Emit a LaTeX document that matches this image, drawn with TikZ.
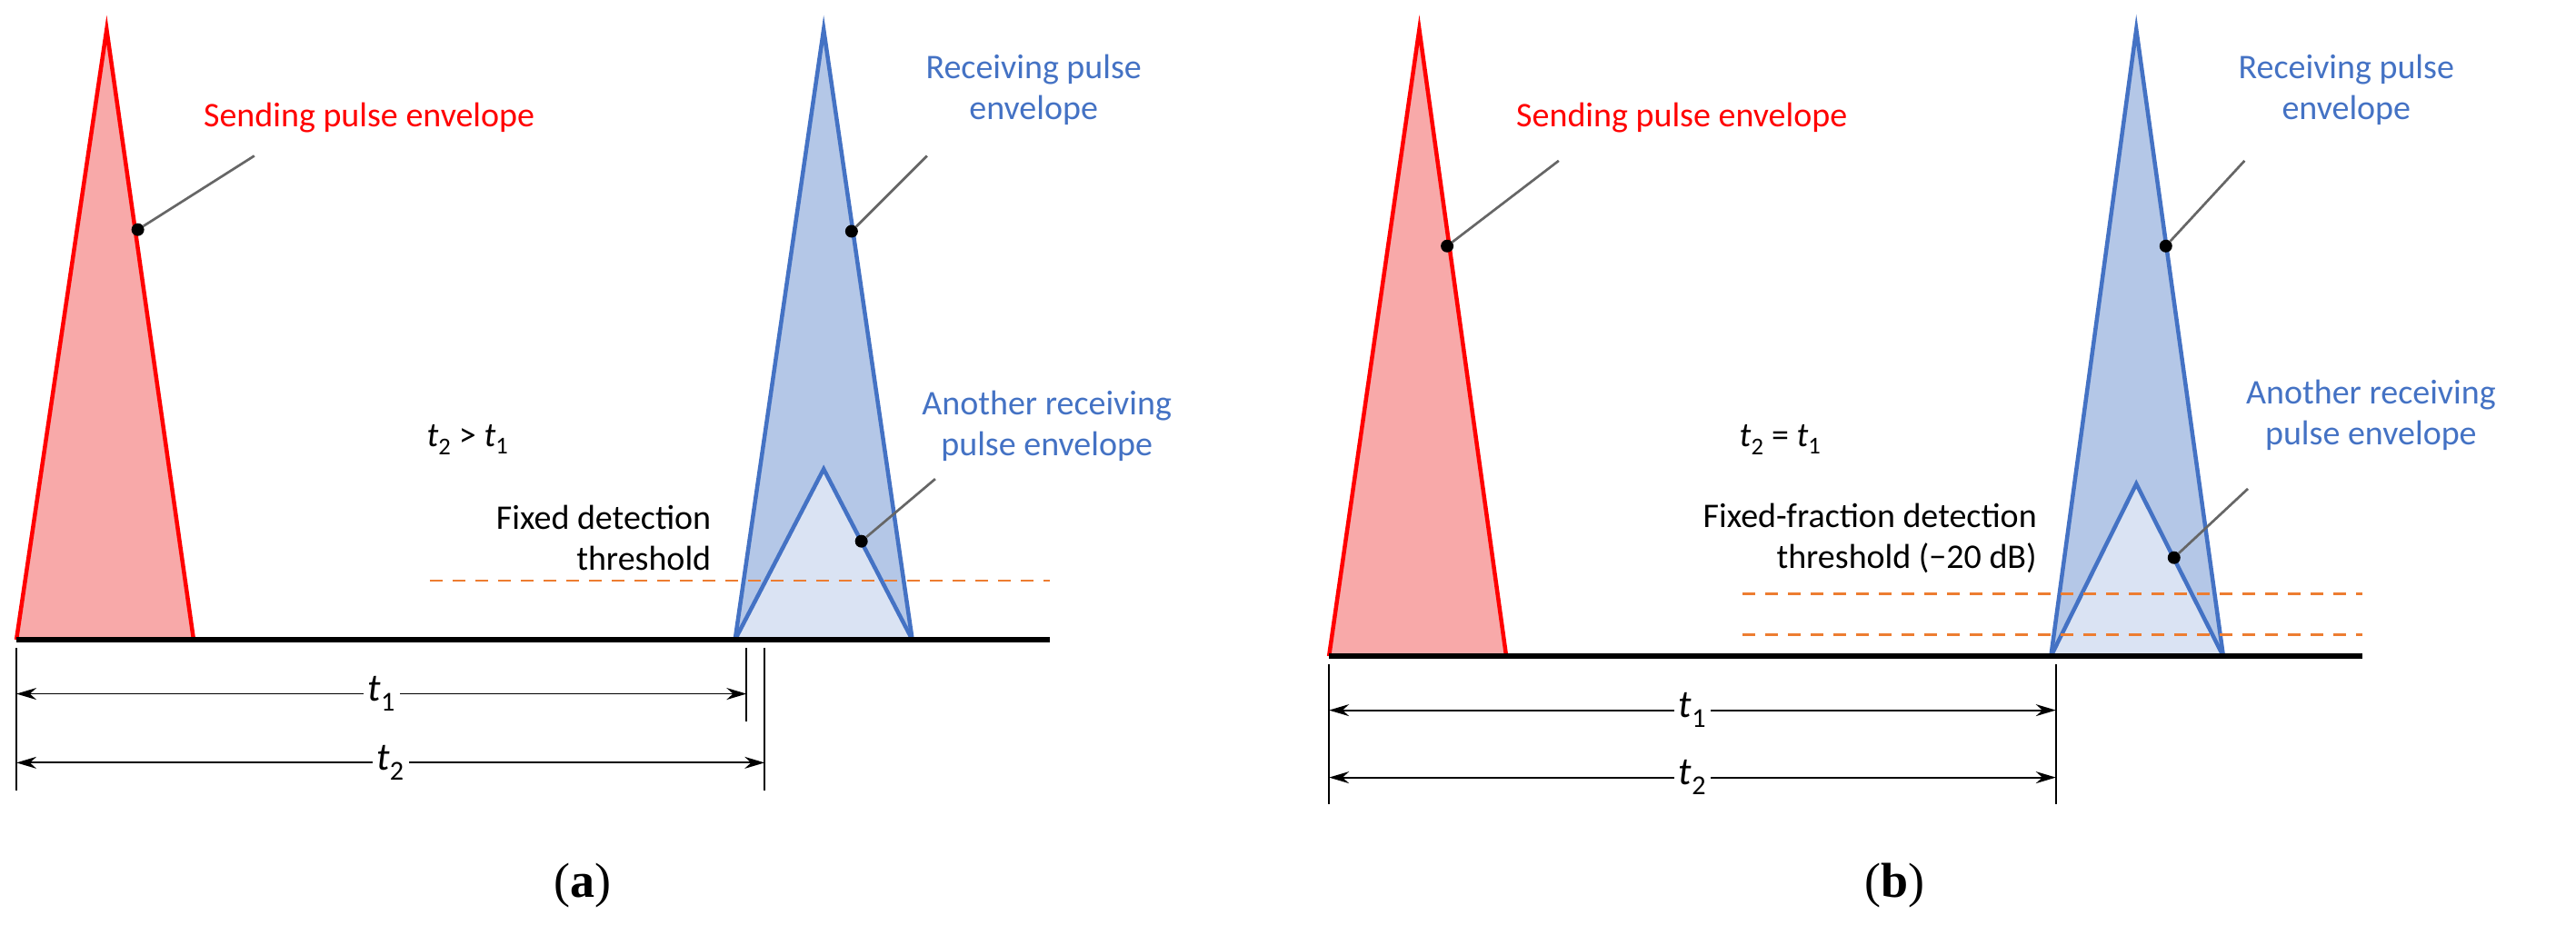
\documentclass[tikz,border=0pt]{standalone}
\usepackage{fontspec}
\setmainfont{Carlito}
\newfontfamily\capfont{Liberation Serif}
\usetikzlibrary{arrows.meta}
\definecolor{pred}{HTML}{FF0000}
\definecolor{pfill}{HTML}{F8A9A9}
\definecolor{bline}{HTML}{4472C4}
\definecolor{bfill}{HTML}{B4C7E7}
\definecolor{bfill2}{HTML}{DAE3F3}
\definecolor{dorange}{HTML}{ED7D31}
\tikzset{
 x=1.805pt,y=-1.805pt,
 lbl/.style={font=\fontsize{38}{45}\selectfont,align=center,inner sep=1pt},
 redlbl/.style={lbl,text=pred},
 bluelbl/.style={lbl,text=bline},
 blk/.style={lbl,text=black},
 leader/.style={draw=black!60,line width=2.7},
 dot/.style={circle,fill=black,inner sep=0,minimum size=14},
 base/.style={line width=5.4},
 tick/.style={line width=1.8},
 dim/.style={line width=1.8,{Stealth[length=22,width=13]}-{Stealth[length=22,width=13]}},
 dimlbl/.style={fill=white,font=\fontsize{43}{50}\selectfont,inner sep=5},
 thr/.style={dorange,line width=2.9,dash pattern=on 14 off 11},
 captxt/.style={font=\capfont\fontsize{54}{60}\selectfont}
}
\newcommand{\tsub}[1]{\textit{t}\textsubscript{#1}}
\begin{document}
\begin{tikzpicture}
\useasboundingbox (0,0) rectangle (1570,576);
% ---------- panel a
\fill[pfill,draw=pred,line width=4.5] (10,390) -- (65,18) -- (118,390);
\filldraw[fill=bfill,draw=bline,line width=4.5] (448,390) -- (502,18) -- (556,390) -- cycle;
\filldraw[fill=bfill2,draw=bline,line width=4.5] (448,390) -- (502,286) -- (556,390);
\draw[thr] (262,354) -- (640,354);
\draw[base] (10,390) -- (640,390);
\node[redlbl] (sa) at (225,72) {Sending pulse envelope};
\node[dot] (sad) at (84,140) {};
\draw[leader] (sad) -- (155,95);
\node[bluelbl] (ra) at (630,55) {Receiving pulse\\envelope};
\node[dot] (rad) at (519,141) {};
\draw[leader] (rad) -- (565,95);
\node[bluelbl] (aa) at (638,260) {Another receiving\\pulse envelope};
\node[dot] (aad) at (525,330) {};
\draw[leader] (aad) -- (570,292);
\node[blk] (ca) at (285,268) {\tsub{2} > \tsub{1}};
\node[blk,align=right,anchor=east] (fa) at (434,328) {Fixed detection\\threshold};
\draw[tick] (10,395) -- (10,482);
\draw[tick] (455,395) -- (455,440);
\draw[tick] (466,395) -- (466,482);
\coordinate (a1l) at (10,423); \coordinate (a1r) at (455,423);
\coordinate (a2l) at (10,465); \coordinate (a2r) at (466,465);
\draw[dim] (a1l) -- node[dimlbl,pos=0.5] {\tsub{1}} (a1r);
\draw[dim] (a2l) -- node[dimlbl,pos=0.5] {\tsub{2}} (a2r);
\node[captxt] (capa) at (355,540) {(\textbf{a})};
% ---------- panel b
\fill[pfill,draw=pred,line width=4.5] (810,400) -- (865,18) -- (918,400);
\filldraw[fill=bfill,draw=bline,line width=4.5] (1250,400) -- (1302,18) -- (1355,400) -- cycle;
\filldraw[fill=bfill2,draw=bline,line width=4.5] (1250,400) -- (1302,295) -- (1355,400);
\draw[thr] (1062,362) -- (1440,362);
\draw[thr] (1062,387) -- (1440,387);
\draw[base] (810,400) -- (1440,400);
\node[redlbl] (sb) at (1025,72) {Sending pulse envelope};
\node[dot] (sbd) at (882,150) {};
\draw[leader] (sbd) -- (950,98);
\node[bluelbl] (rb) at (1430,55) {Receiving pulse\\envelope};
\node[dot] (rbd) at (1320,150) {};
\draw[leader] (rbd) -- (1368,98);
\node[bluelbl] (ab) at (1445,253) {Another receiving\\pulse envelope};
\node[dot] (abd) at (1325,340) {};
\draw[leader] (abd) -- (1370,298);
\node[blk] (cb) at (1085,268) {\tsub{2} = \tsub{1}};
\node[blk,align=right,anchor=east] (fb) at (1242,328) {Fixed-fraction detection\\threshold (−20 dB)};
\draw[tick] (810,405) -- (810,490);
\draw[tick] (1253,405) -- (1253,490);
\coordinate (b1l) at (810,433); \coordinate (b1r) at (1253,433);
\coordinate (b2l) at (810,474); \coordinate (b2r) at (1253,474);
\draw[dim] (b1l) -- node[dimlbl,pos=0.5] {\tsub{1}} (b1r);
\draw[dim] (b2l) -- node[dimlbl,pos=0.5] {\tsub{2}} (b2r);
\node[captxt] (capb) at (1155,540) {(\textbf{b})};
\end{tikzpicture}
\end{document}
